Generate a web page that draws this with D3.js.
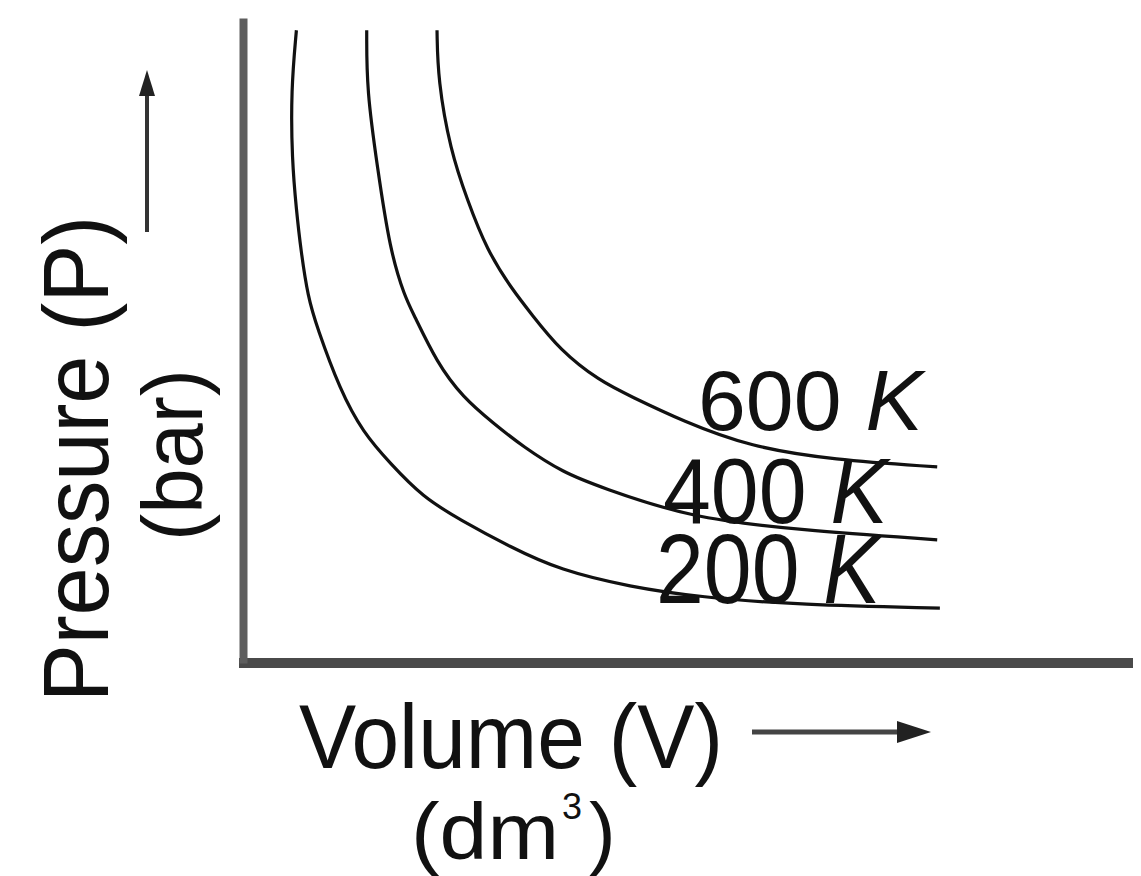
<!DOCTYPE html>
<html>
<head>
<meta charset="utf-8">
<script src="https://cdn.jsdelivr.net/npm/d3@7"></script>
<style>
  html, body { margin: 0; padding: 0; background: #fff; }
  svg { display: block; }
  text { font-family: "Liberation Sans", Arial, sans-serif; fill: #111; }
</style>
</head>
<body>
<svg id="chart" width="1141" height="876"></svg>
<script>
// ---- data (V in arbitrary dm^3 units, P in arbitrary bar units) ----
const temperatures = ["200", "400", "600"];
const volume200 = [0.60, 0.54, 0.55, 0.60, 0.65, 0.73, 0.83, 1.09, 1.35, 1.65, 2.02, 2.44, 3.00, 3.56, 4.35, 5.13, 6.26, 7.83];
const pressure200 = [9.81, 8.88, 7.80, 7.02, 6.40, 5.67, 5.21, 4.23, 3.57, 3.10, 2.57, 2.22, 1.80, 1.44, 1.18, 1.02, 0.90, 0.85];
const volume400 = [1.39, 1.39, 1.51, 1.65, 1.82, 1.91, 2.18, 2.47, 2.81, 3.15, 3.60, 4.01, 5.02, 6.26, 7.80];
const pressure400 = [9.81, 8.88, 7.69, 6.40, 5.67, 5.43, 4.65, 4.12, 3.72, 3.35, 2.95, 2.73, 2.25, 2.06, 1.91];
const volume600 = [2.18, 2.19, 2.33, 2.52, 2.74, 3.03, 3.23, 3.56, 4.01, 4.35, 4.94, 5.70, 6.63, 7.80];
const pressure600 = [9.81, 9.04, 7.95, 7.18, 6.40, 5.78, 5.43, 4.85, 4.37, 4.14, 3.75, 3.35, 3.15, 3.04];
const xTitle = "Volume (V)";
const xUnit = "(dm";
const xUnitSup = "3";
const yTitle = "Pressure (P)";
const yUnit = "(bar)";
const unitK = "K";

const svg = d3.select("#chart");
const x = d3.scaleLinear().domain([0, 10]).range([243, 1133]);
const y = d3.scaleLinear().domain([0, 10]).range([663, 18]);

// axes (no ticks)
svg.append("g")
  .attr("transform", `translate(0,${y(0)})`)
  .call(d3.axisBottom(x).ticks(0).tickSizeOuter(0))
  .call(g => g.select(".domain").attr("stroke", "#4a4a4a").attr("stroke-width", 10)
    .attr("d", `M${x(0) - 4},0H${x(10)}`));
svg.append("g")
  .attr("transform", `translate(${x(0)},0)`)
  .call(d3.axisLeft(y).ticks(0).tickSizeOuter(0))
  .call(g => g.select(".domain").attr("stroke", "#5e5e5e").attr("stroke-width", 8));

// isotherms
const series = [
  { t: temperatures[0], v: volume200, p: pressure200 },
  { t: temperatures[1], v: volume400, p: pressure400 },
  { t: temperatures[2], v: volume600, p: pressure600 }
];
const line = d3.line()
  .x(d => x(d[0]))
  .y(d => y(d[1]))
  .curve(d3.curveBasis);
svg.append("g").selectAll("path")
  .data(series)
  .join("path")
  .attr("d", s => line(s.v.map((v, i) => [v, s.p[i]])))
  .attr("fill", "none")
  .attr("stroke", "#111")
  .attr("stroke-width", 3.2);

// curve labels
const labelPos = { "600": [698, 430, 1.0], "400": [663, 523, 1.08], "200": [656, 603, 1.15] };
series.forEach(s => {
  const [lx, ly, sy] = labelPos[s.t];
  const t = svg.append("g").attr("transform", `translate(${lx},${ly}) scale(1,${sy})`)
    .append("text").attr("x", 0).attr("y", 0).attr("font-size", 86);
  t.append("tspan").text(s.t + " ");
  t.append("tspan").attr("font-style", "italic").text(unitK);
});

// y-axis title
svg.append("text")
  .attr("transform", "translate(108,702) rotate(-90)")
  .attr("font-size", 92)
  .attr("textLength", 486)
  .attr("lengthAdjust", "spacingAndGlyphs")
  .text(yTitle);
svg.append("text")
  .attr("transform", "translate(202,541) rotate(-90)")
  .attr("font-size", 86)
  .attr("textLength", 172)
  .attr("lengthAdjust", "spacingAndGlyphs")
  .text(yUnit);
// up arrow
svg.append("line").attr("x1", 147).attr("x2", 147).attr("y1", 232).attr("y2", 90)
  .attr("stroke", "#333").attr("stroke-width", 4);
svg.append("path").attr("d", "M147,70L139,96L155,96Z").attr("fill", "#222");

// x-axis title
svg.append("text")
  .attr("x", 299).attr("y", 768)
  .attr("font-size", 90)
  .attr("textLength", 424)
  .attr("lengthAdjust", "spacingAndGlyphs")
  .text(xTitle);
svg.append("line").attr("x1", 752).attr("x2", 905).attr("y1", 732).attr("y2", 732)
  .attr("stroke", "#444").attr("stroke-width", 5);
svg.append("path").attr("d", "M931,732L897,721L897,743Z").attr("fill", "#222");

svg.append("text")
  .attr("x", 411).attr("y", 859)
  .attr("font-size", 80)
  .attr("textLength", 148)
  .attr("lengthAdjust", "spacingAndGlyphs")
  .text(xUnit);
svg.append("text")
  .attr("x", 562).attr("y", 819)
  .attr("font-size", 36)
  .text(xUnitSup);
svg.append("text")
  .attr("x", 589).attr("y", 859)
  .attr("font-size", 80)
  .text(")");
</script>
</body>
</html>
